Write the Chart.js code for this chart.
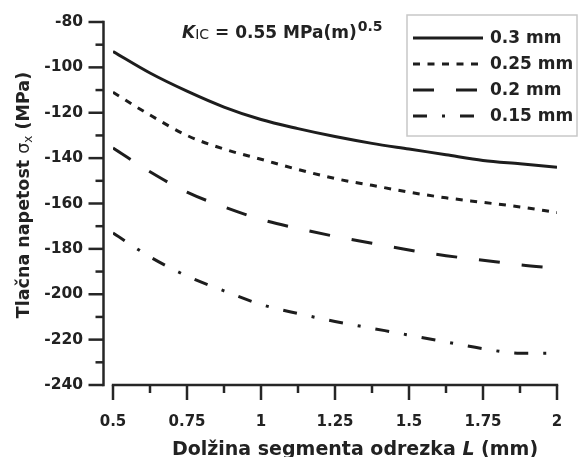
<!DOCTYPE html>
<html><head><meta charset="utf-8">
<script src="https://cdn.jsdelivr.net/npm/chart.js@4.4.0/dist/chart.umd.min.js"></script>
<style>html,body{margin:0;padding:0;background:#fff}#wrap{width:578px;height:457px;position:relative}</style>
</head><body><div id="wrap"><canvas id="c" width="578" height="457"></canvas></div>
<script>
// ---- data ----
const lengthsMm = [0.5, 0.625, 0.75, 0.875, 1.0, 1.125, 1.25, 1.375, 1.5, 1.625, 1.75, 1.875, 2.0];
const stress030 = [-93, -102.5, -110.5, -117.5, -123, -127, -130.5, -133.5, -136, -138.5, -141, -142.5, -144];
const stress025 = [-111, -121, -130, -136, -140.5, -145, -149, -152, -155, -157.5, -159.5, -161.5, -164];
const stress020 = [-135.5, -146, -155, -161.5, -167, -171, -174.5, -177.5, -180.5, -183, -185, -187, -188.5];
const stress015 = [-173, -183.5, -192, -198.5, -204.5, -208.5, -212, -215, -218, -221, -224, -226, -226];
const seriesLabels = ['0.3 mm', '0.25 mm', '0.2 mm', '0.15 mm'];
const xTickValues = [0.5, 0.75, 1, 1.25, 1.5, 1.75, 2];
const xMinorValues = [0.625, 0.875, 1.125, 1.375, 1.625, 1.875];
const yTickValues = [-80, -100, -120, -140, -160, -180, -200, -220, -240];
const yMinorValues = [-90, -110, -130, -150, -170, -190, -210, -230];
const xTitleParts = ['Dolžina segmenta odrezka ', 'L', ' (mm)'];
const yTitleParts = ['Tlačna napetost ', 'σ', 'x', ' (MPa)'];
const noteParts = ['K', 'IC', ' = 0.55 MPa(m)', '0.5'];

const INK = '#1d1d1d';
const FONT = '"DejaVu Sans", sans-serif';
const dashes = [[], [7, 7.5], [21, 22], [14, 15, 3, 15]];
const series = [stress030, stress025, stress020, stress015];

const datasets = series.map((vals, i) => ({
  label: seriesLabels[i],
  data: lengthsMm.map((x, j) => ({x: x, y: vals[j]})),
  borderColor: INK,
  borderWidth: 3,
  borderDash: dashes[i],
  pointRadius: 0,
  fill: false,
  cubicInterpolationMode: 'monotone'
}));

const decor = {
  id: 'decor',
  afterDraw(chart) {
    const ctx = chart.ctx;
    const xs = chart.scales.x, ys = chart.scales.y;
    const area = chart.chartArea;
    const axX = area.left - 9.5;
    ctx.save();
    ctx.strokeStyle = '#262626';
    ctx.lineWidth = 2.5;
    ctx.lineCap = 'butt';
    // y axis
    ctx.beginPath();
    ctx.moveTo(axX, ys.getPixelForValue(-80) - 1.2);
    ctx.lineTo(axX, ys.getPixelForValue(-240) + 1.2);
    ctx.stroke();
    yTickValues.forEach(v => {
      const p = ys.getPixelForValue(v);
      ctx.beginPath(); ctx.moveTo(axX - 15, p); ctx.lineTo(axX, p); ctx.stroke();
    });
    yMinorValues.forEach(v => {
      const p = ys.getPixelForValue(v);
      ctx.beginPath(); ctx.moveTo(axX - 8, p); ctx.lineTo(axX, p); ctx.stroke();
    });
    // x axis
    const axY = area.bottom;
    ctx.beginPath();
    ctx.moveTo(xs.getPixelForValue(0.5) - 1.2, axY);
    ctx.lineTo(xs.getPixelForValue(2) + 1.2, axY);
    ctx.stroke();
    xTickValues.forEach(v => {
      const p = xs.getPixelForValue(v);
      ctx.beginPath(); ctx.moveTo(p, axY); ctx.lineTo(p, axY + 15); ctx.stroke();
    });
    xMinorValues.forEach(v => {
      const p = xs.getPixelForValue(v);
      ctx.beginPath(); ctx.moveTo(p, axY); ctx.lineTo(p, axY + 8); ctx.stroke();
    });

    ctx.fillStyle = '#222';
    ctx.textBaseline = 'alphabetic';
    // x title
    const f1 = 'bold 19px ' + FONT, f2 = 'italic bold 19px ' + FONT;
    ctx.font = f1; const w0 = ctx.measureText(xTitleParts[0]).width; const w2 = ctx.measureText(xTitleParts[2]).width;
    ctx.font = f2; const w1 = ctx.measureText(xTitleParts[1]).width;
    let tx = 355 - (w0 + w1 + w2) / 2;
    const ty = 455;
    ctx.textAlign = 'left';
    ctx.font = f1; ctx.fillText(xTitleParts[0], tx, ty); tx += w0;
    ctx.font = f2; ctx.fillText(xTitleParts[1], tx, ty); tx += w1;
    ctx.font = f1; ctx.fillText(xTitleParts[2], tx, ty);

    // y title (rotated)
    ctx.save();
    ctx.translate(29, 195);
    ctx.rotate(-Math.PI / 2);
    const yf = ['bold 17.5px ' + FONT, '17.5px ' + FONT, '12px ' + FONT, 'bold 17.5px ' + FONT];
    const yw = yTitleParts.map((t, i) => { ctx.font = yf[i]; return ctx.measureText(t).width; });
    let yx = -(yw[0] + yw[1] + yw[2] + yw[3]) / 2;
    yTitleParts.forEach((t, i) => {
      ctx.font = yf[i];
      ctx.fillText(t, yx, i === 2 ? 3 : 0);
      yx += yw[i];
    });
    ctx.restore();

    // K_IC annotation
    let nx = 182;
    const nb = 38;
    ctx.font = 'italic bold 17px ' + FONT; ctx.fillText(noteParts[0], nx, nb); nx += ctx.measureText(noteParts[0]).width;
    ctx.font = '14px ' + FONT; ctx.fillText(noteParts[1], nx, nb + 1); nx += ctx.measureText(noteParts[1]).width;
    ctx.font = 'bold 17px ' + FONT; ctx.fillText(noteParts[2], nx, nb); nx += ctx.measureText(noteParts[2]).width + 1;
    ctx.font = 'bold 14px ' + FONT; ctx.fillText(noteParts[3], nx, nb - 7);

    // legend box
    ctx.strokeStyle = '#c8c8c8';
    ctx.lineWidth = 1.5;
    ctx.strokeRect(407, 15, 170, 121);
    const rows = [38, 64, 90, 116];
    chart.data.datasets.forEach((ds, i) => {
      ctx.strokeStyle = INK;
      ctx.lineWidth = 3;
      ctx.setLineDash(ds.borderDash || []);
      ctx.beginPath(); ctx.moveTo(413, rows[i]); ctx.lineTo(483, rows[i]); ctx.stroke();
      ctx.setLineDash([]);
      ctx.font = 'bold 17px ' + FONT;
      ctx.textBaseline = 'middle';
      ctx.fillStyle = '#222';
      ctx.fillText(ds.label, 490, rows[i] + 1);
    });
    ctx.restore();
  }
};

new Chart(document.getElementById('c'), {
  type: 'line',
  data: {datasets: datasets},
  options: {
    responsive: false,
    animation: false,
    devicePixelRatio: 1,
    layout: {padding: {top: 22, right: 21, left: 0, bottom: 0}},
    plugins: {legend: {display: false}, tooltip: {enabled: false}},
    scales: {
      x: {
        type: 'linear', min: 0.5, max: 2,
        afterBuildTicks: s => { s.ticks = xTickValues.map(v => ({value: v})); },
        afterFit: s => { s.height = 72; s.paddingLeft = 0; s.paddingRight = 0; },
        grid: {display: false, drawTicks: false},
        border: {display: false},
        ticks: {autoSkip: false, maxRotation: 0, padding: 28, color: '#222',
                font: {family: FONT, size: 15, weight: 'bold'}, callback: v => String(v)}
      },
      y: {
        type: 'linear', min: -240, max: -80,
        afterBuildTicks: s => { s.ticks = yTickValues.map(v => ({value: v})); },
        afterFit: s => { s.width = 113; s.paddingTop = 0; s.paddingBottom = 0; },
        grid: {display: false, drawTicks: false},
        border: {display: false},
        ticks: {autoSkip: false, padding: 30, color: '#222',
                font: {family: FONT, size: 15.5, weight: 'bold'}, callback: v => String(v)}
      }
    }
  },
  plugins: [decor]
});
</script>
</body></html>
